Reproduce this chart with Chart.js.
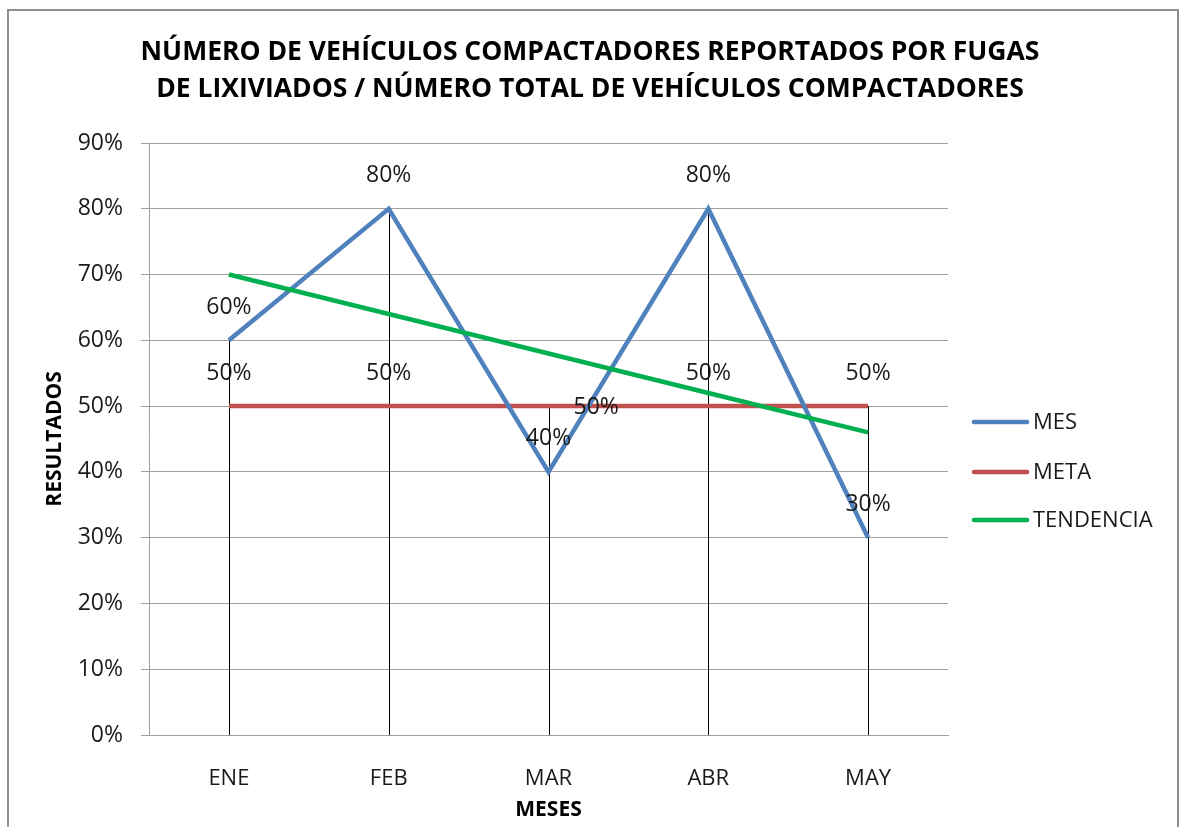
<!DOCTYPE html>
<html>
<head>
<meta charset="utf-8">
<script src="https://cdn.jsdelivr.net/npm/chart.js@4"></script>
<style>
  html, body { margin: 0; padding: 0; background: #ffffff; }
  #wrap { position: relative; width: 1183px; height: 827px; overflow: hidden; }
  #frame { position: absolute; left: 7px; top: 9px; width: 1172px; height: 840px;
           border: 2px solid #8e8e8e; box-sizing: border-box; pointer-events: none; }
  canvas { position: absolute; left: 0; top: 0; }
</style>
</head>
<body>
<div id="wrap">
  <canvas id="c" width="1183" height="827"></canvas>
  <div id="frame"></div>
</div>
<script>
const categories = ['ENE', 'FEB', 'MAR', 'ABR', 'MAY'];
const mesValues = [60, 80, 40, 80, 30];
const metaValues = [50, 50, 50, 50, 50];
const tendenciaValues = [70, 64, 58, 52, 46];
const yTicks = [0, 10, 20, 30, 40, 50, 60, 70, 80, 90];
const titleLines = ['NÚMERO DE VEHÍCULOS COMPACTADORES REPORTADOS POR FUGAS',
                    'DE LIXIVIADOS / NÚMERO TOTAL DE VEHÍCULOS COMPACTADORES'];
const seriesNames = ['MES', 'META', 'TENDENCIA'];

const FONT = '"Open Sans", "DejaVu Sans", sans-serif';
const COLORS = ['#4F81BD', '#C0504D', '#00B050'];

const overlay = {
  id: 'overlay',
  beforeDatasetsDraw(chart) {
    const ctx = chart.ctx;
    const x = chart.scales.x, y = chart.scales.y;
    ctx.save();
    ctx.strokeStyle = '#000000';
    ctx.lineWidth = 1;
    categories.forEach((c, i) => {
      const px = Math.round(x.getPixelForValue(i)) + 0.5;
      const top = y.getPixelForValue(Math.max(mesValues[i], metaValues[i]));
      ctx.beginPath();
      ctx.moveTo(px, top);
      ctx.lineTo(px, y.getPixelForValue(0));
      ctx.stroke();
    });
    ctx.restore();
  },
  afterDraw(chart) {
    const ctx = chart.ctx;
    ctx.save();
    // title
    ctx.fillStyle = '#000000';
    ctx.font = 'bold 26.5px ' + FONT;
    ctx.textAlign = 'center';
    ctx.textBaseline = 'middle';
    ctx.fillText(titleLines[0], 590, 52);
    ctx.fillText(titleLines[1], 590, 89);

    // data labels
    ctx.font = '23px ' + FONT;
    ctx.fillStyle = '#1a1a1a';
    [0, 1].forEach(di => {
      const meta = chart.getDatasetMeta(di);
      const vals = chart.data.datasets[di].data;
      meta.data.forEach((pt, i) => {
        const txt = vals[i] + '%';
        if (di === 1 && i === 2) {
          ctx.textAlign = 'left';
          ctx.fillText(txt, pt.x + 25, pt.y + 1);
        } else {
          ctx.textAlign = 'center';
          ctx.fillText(txt, pt.x, pt.y - 33);
        }
      });
    });

    // legend
    const ly = [422, 472, 520];
    ctx.font = '22px ' + FONT;
    ctx.textAlign = 'left';
    chart.data.datasets.forEach((ds, i) => {
      ctx.strokeStyle = ds.borderColor;
      ctx.lineWidth = 4.5;
      ctx.lineCap = 'round';
      ctx.beginPath();
      ctx.moveTo(974, ly[i]);
      ctx.lineTo(1027, ly[i]);
      ctx.stroke();
      ctx.fillStyle = '#1a1a1a';
      ctx.fillText(ds.label, 1033, ly[i] + 1);
    });
    ctx.restore();
  }
};

new Chart(document.getElementById('c'), {
  type: 'line',
  data: {
    labels: categories,
    datasets: [
      { label: seriesNames[0], data: mesValues, borderColor: COLORS[0], backgroundColor: COLORS[0],
        borderWidth: 4.5, pointRadius: 0, tension: 0, order: 1 },
      { label: seriesNames[1], data: metaValues, borderColor: COLORS[1], backgroundColor: COLORS[1],
        borderWidth: 4.5, pointRadius: 0, tension: 0, order: 2 },
      { label: seriesNames[2], data: tendenciaValues, borderColor: COLORS[2], backgroundColor: COLORS[2],
        borderWidth: 4.5, pointRadius: 0, tension: 0, order: 0 }
    ]
  },
  options: {
    responsive: false,
    animation: false,
    events: [],
    layout: { padding: { top: 143, right: 235, bottom: 0, left: 0 } },
    plugins: { legend: { display: false }, title: { display: false }, tooltip: { enabled: false } },
    scales: {
      x: {
        type: 'category',
        offset: true,
        grid: { display: false },
        border: { display: true, color: '#a0a0a0', width: 1 },
        ticks: { color: '#1a1a1a', font: { family: FONT, size: 22 }, padding: 23 },
        title: { display: true, text: 'MESES', color: '#000000',
                 font: { family: FONT, size: 21, weight: 'bold' }, padding: { top: 0, bottom: 4 } },
        afterFit(s) { s.height = 92; }
      },
      y: {
        min: 0, max: 90,
        afterBuildTicks(s) { s.ticks = yTicks.map(v => ({ value: v })); },
        grid: { color: '#a0a0a0', lineWidth: 1, tickLength: 8, drawTicks: true },
        border: { display: true, color: '#a0a0a0', width: 1 },
        ticks: { color: '#1a1a1a', font: { family: FONT, size: 23 }, padding: 18,
                 callback: v => v + '%' },
        title: { display: true, text: 'RESULTADOS', color: '#000000',
                 font: { family: FONT, size: 21, weight: 'bold' }, padding: { top: 42, bottom: 0 } },
        afterFit(s) { s.width = 149; }
      }
    }
  },
  plugins: [overlay]
});
</script>
</body>
</html>
